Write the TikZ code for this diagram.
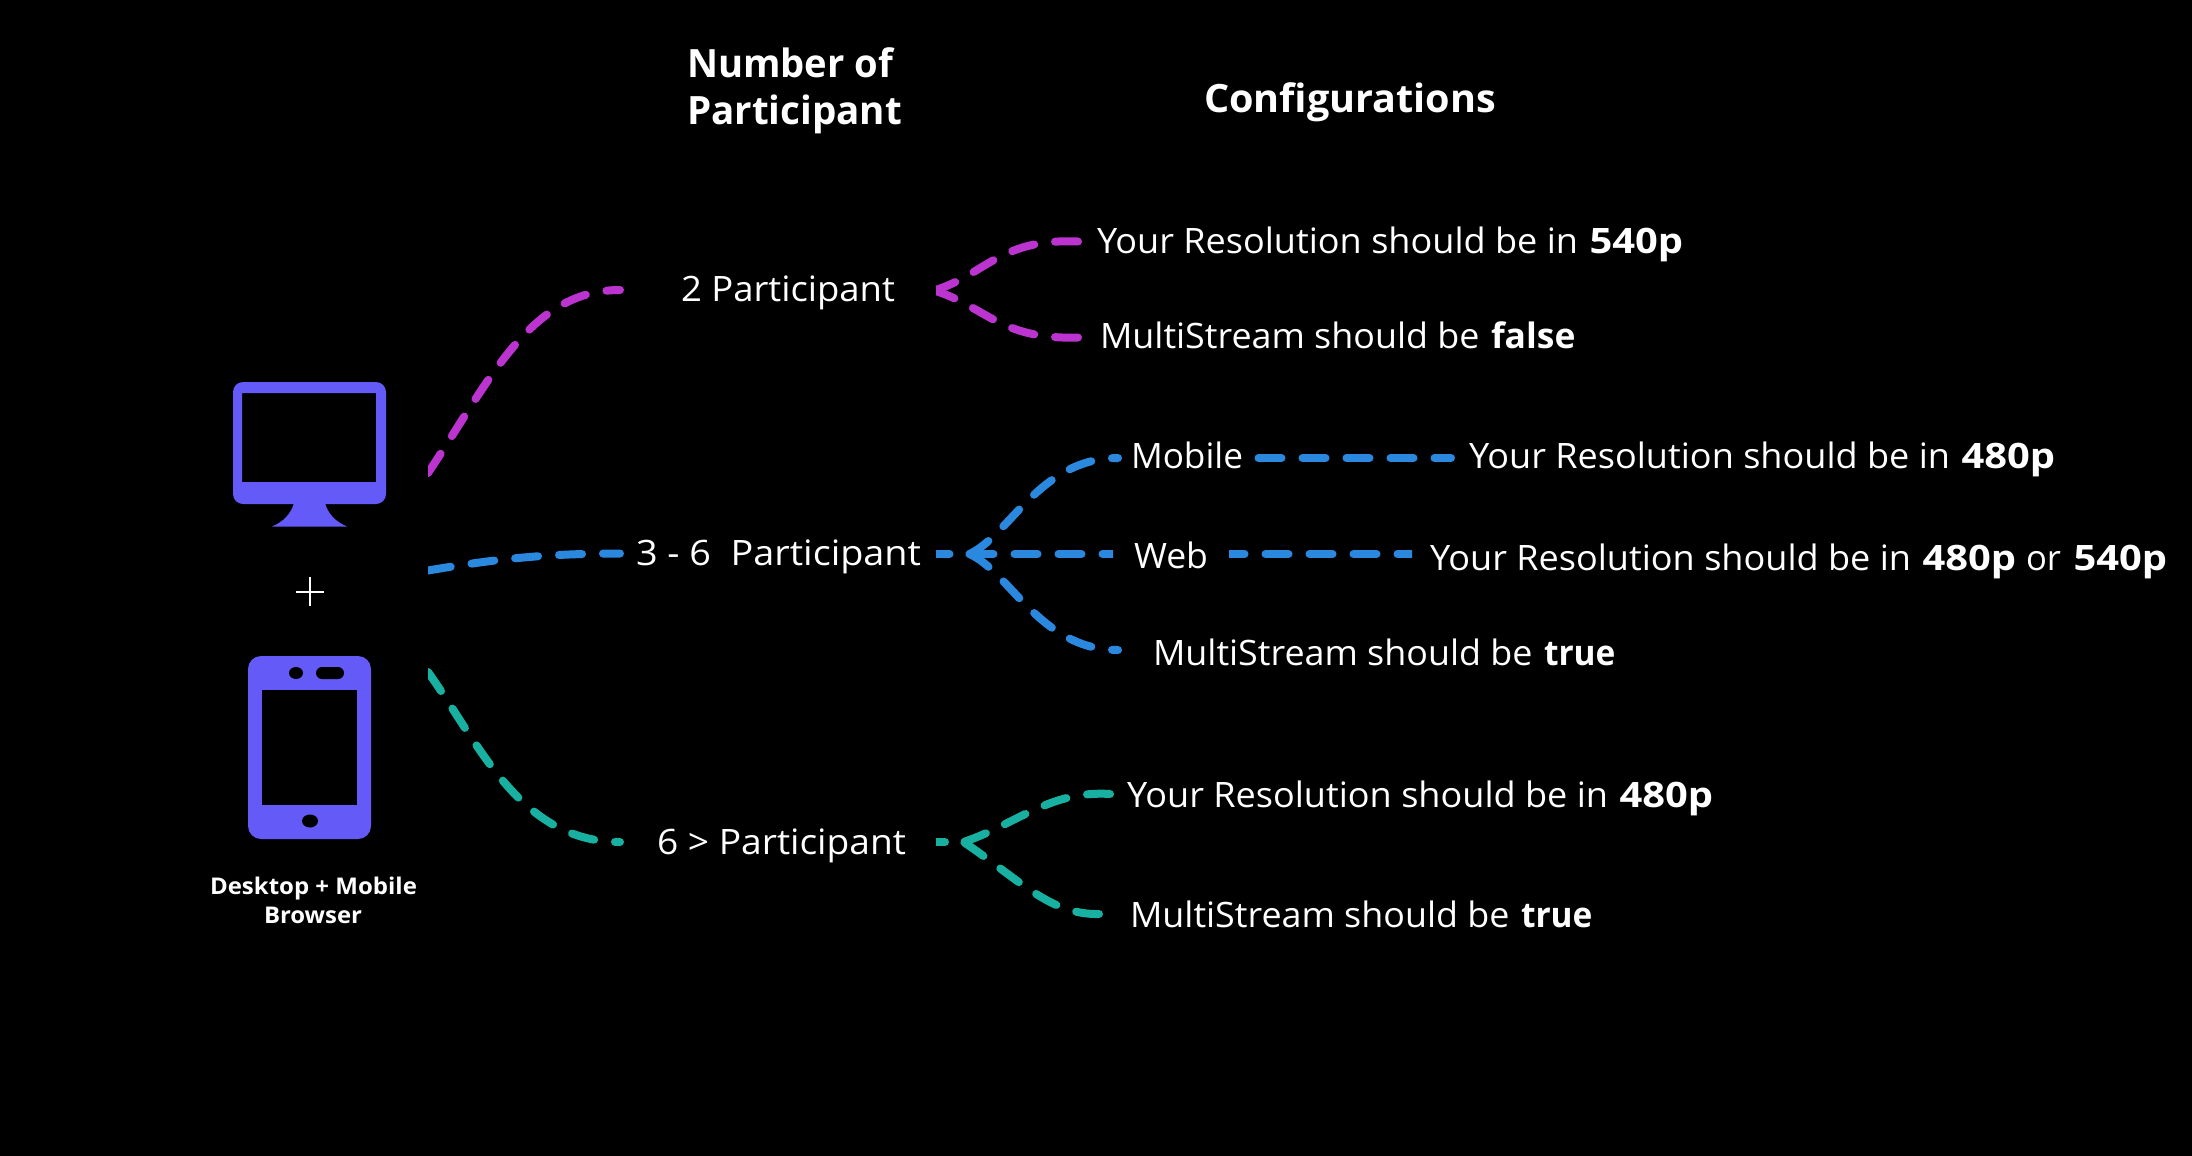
\documentclass[tikz,border=0pt]{standalone}
\usepackage{fontspec}
\usepackage{graphicx}
\setmainfont{Open Sans}
\definecolor{iconc}{HTML}{645AF8}
\definecolor{purplec}{HTML}{BC34D0}
\definecolor{bluec}{HTML}{2A88DE}
\definecolor{tealc}{HTML}{18B0A0}
\newcommand{\fitw}[2]{\resizebox{#1pt}{\height}{#2}}
\newcommand{\boldfit}[2]{\hspace{11.5pt}\fitw{#1}{\textbf{#2}}}
\newcommand{\yourres}{\fitw{481}{Your Resolution should be in}}
\newcommand{\multi}{\fitw{379.5}{MultiStream should be}}
\tikzset{
  txt/.style={text=white,inner sep=0pt,outer sep=0pt,anchor=base west,font=\fontsize{35}{35}\selectfont},
  headtxt/.style={text=white,inner sep=0pt,outer sep=0pt,anchor=base west,font=\fontsize{39}{39}\selectfont\bfseries},
  captxt/.style={text=white,inner sep=0pt,outer sep=0pt,anchor=base west,font=\fontsize{23}{23}\selectfont\bfseries},
  dashline/.style={line width=8pt,line cap=round,dash pattern=on 23pt off 21pt},
  pline/.style={dashline,draw=purplec},
  bline/.style={dashline,draw=bluec},
  tline/.style={dashline,draw=tealc},
  iconfill/.style={fill=iconc,draw=none,even odd rule}
}
\begin{document}
\begin{tikzpicture}[x=1pt,y=-1pt]
\useasboundingbox (0,0) rectangle (2192,1156);
\fill[black] (0,0) rectangle (2192,1156);
% headings
\node[headtxt] (h1) at (687,78) {\fitw{206}{Number of}};
\node[headtxt] (h2) at (687,124) {\fitw{215}{Participant}};
\node[headtxt] (h3) at (1204,112) {\fitw{292}{Configurations}};
% monitor
\fill[iconfill,rounded corners=10pt] (233,382) rectangle (386,504) [sharp corners] (242,393) rectangle (376,482);
\fill[iconfill] (294,503) .. controls (291,514) and (283,522) .. (272,526.5) -- (347,526.5) .. controls (336,522) and (328,514) .. (325,503) -- cycle;
% plus
\draw[white,line width=2pt] (296,592) -- (324,592) (310,577) -- (310,605.5);
% phone
\fill[iconfill,rounded corners=13pt] (248,656) rectangle (371,839);
\fill[black] (262,690) rectangle (357,805);
\fill[black] (296,673) ellipse [x radius=7,y radius=6];
\fill[black,rounded corners=6pt] (316,667) rectangle (344,679);
\fill[black] (310,821) ellipse [x radius=8,y radius=6.5];
% device label
\node[captxt] (c1) at (210,894.5) {\fitw{207}{Desktop + Mobile}};
\node[captxt] (c2) at (264,923.5) {\fitw{98}{Browser}};
% participant labels
\node[txt] (p2) at (681,301) {\fitw{214}{2 Participant}};
\node[txt] (p36) at (636,565) {\fitw{285}{3 - 6\ \ Participant}};
\node[txt] (p6) at (657,854.5) {\fitw{249}{6 > Participant}};
% configuration labels
\node[txt] (r540) at (1097,253.5) {\yourres\boldfit{93.5}{540p}};
\node[txt] (mfalse) at (1100,348) {\multi\boldfit{84.5}{false}};
\node[txt] (mob) at (1131,468) {\fitw{112}{Mobile}};
\node[txt] (r480a) at (1469,468) {\yourres\boldfit{93.5}{480p}};
\node[txt] (web) at (1134,568) {\fitw{74}{Web}};
\node[txt] (r480b) at (1430,570) {\yourres\boldfit{93.5}{480p}\hspace{10pt}\fitw{35}{or}\hspace{12.5pt}\fitw{93.5}{\textbf{540p}}};
\node[txt] (mtrue) at (1153,665) {\multi\boldfit{71.5}{true}};
\node[txt] (r480c) at (1127,807) {\yourres\boldfit{93.5}{480p}};
\node[txt] (mtrueb) at (1130,927) {\multi\boldfit{71.5}{true}};
% free ends
\coordinate (devP) at (428,473);
\coordinate (devB) at (428,570.5);
\coordinate (devT) at (428,672);
\coordinate (inP) at (620,290);
\coordinate (inB) at (620,553.5);
\coordinate (inT) at (620,842);
\coordinate (jP) at (934,290.5);
\coordinate (outPa) at (1078,241.5);
\coordinate (outPb) at (1078,337.5);
\coordinate (jB) at (969.5,554);
\coordinate (outBa) at (1118,458);
\coordinate (outBb) at (1118,650);
\coordinate (webIn) at (1125.5,554);
\coordinate (webLeft) at (925.5,554);
\coordinate (webOutA) at (1221.5,554);
\coordinate (webOutB) at (1421.5,554);
\coordinate (mobA) at (1258.5,458);
\coordinate (mobB) at (1451,458);
\coordinate (jT) at (963.5,842);
\coordinate (outTa) at (1110,794);
\coordinate (outTb) at (1099,914);
\coordinate (stubA) at (945,842);
\coordinate (stubB) at (925,842);
% left connectors
\begin{scope}
\clip (428,0) rectangle (2192,1156);
\draw[pline] (devP) .. controls (490,380) and (530,290) .. (inP);
\draw[bline] (devB) .. controls (490,560) and (540,553.5) .. (inB);
\draw[tline] (devT) .. controls (480,745) and (520,842) .. (inT);
\end{scope}
% purple fork
\begin{scope}
\clip (936,0) rectangle (2192,1156);
\draw[pline] (outPa) .. controls (1000,238) and (985,275) .. (jP);
\draw[pline] (outPb) .. controls (1000,340) and (985,306) .. (jP);
\draw[tline] (stubA) -- (stubB);
\end{scope}
% blue fork
\draw[bline] (jB) .. controls (1010,535) and (1040,458) .. (outBa);
\draw[bline] (jB) .. controls (1010,572) and (1040,650) .. (outBb);
\begin{scope}
\clip (936,0) rectangle (1113,1156);
\draw[bline] (webIn) -- (webLeft);
\end{scope}
\begin{scope}
\clip (1229,0) rectangle (1412,1156);
\draw[bline] (webOutA) -- (webOutB);
\end{scope}
\draw[bline] (mobA) -- (mobB);
% teal fork
\draw[tline] (outTa) .. controls (1050,790) and (1015,825) .. (jT);
\draw[tline] (outTb) .. controls (1050,915) and (1020,880) .. (jT);
\end{tikzpicture}
\end{document}
